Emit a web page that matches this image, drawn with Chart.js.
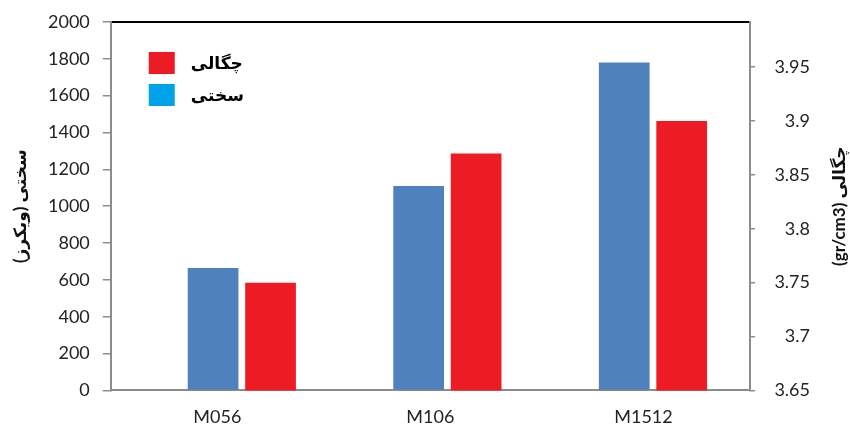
<!DOCTYPE html>
<html>
<head>
<meta charset="utf-8">
<script src="https://cdn.jsdelivr.net/npm/chart.js@4.4.1/dist/chart.umd.min.js"></script>
<style>
  html, body { margin: 0; padding: 0; background: #ffffff; }
  #wrap { width: 850px; height: 429px; }
</style>
</head>
<body>
<div id="wrap"><canvas id="chart" width="850" height="429"></canvas></div>
<script>
// Samples and measured properties
const samples = ['M056', 'M106', 'M1512'];
const hardness = [665, 1110, 1780];      // Vickers hardness
const density = [3.75, 3.87, 3.90];      // gr/cm3

// Axis ticks
const hardnessTicks = [0, 200, 400, 600, 800, 1000, 1200, 1400, 1600, 1800, 2000];
const densityTicks = [3.65, 3.7, 3.75, 3.8, 3.85, 3.9, 3.95];

// Texts
const hardnessName = 'سختی';
const densityName = 'چگالی';
const hardnessTitle = 'سختی (ویکرز)';
const densityTitle = 'چگالی (gr/cm3)';

// Colours
const hardnessColor = '#4F81BD';
const densityColor = '#ED1C24';
const legendColors = { [densityName]: '#ED1C24', [hardnessName]: '#00A2E8' };

const textColor = '#232323';
const axisGray = '#8c8c8c';
const numFont = { family: "Lato, 'DejaVu Sans', sans-serif", size: 18 };
const titleFont = "bold 17px Lato, 'DejaVu Sans', sans-serif";
const legendFont = "bold 17px Lato, 'DejaVu Sans', sans-serif";

// Legend and rotated axis titles drawn on top of the plot
const annotations = {
  id: 'annotations',
  afterDraw(chart) {
    const { ctx, chartArea } = chart;
    ctx.save();
    // legend inside the plot, top-left
    const entries = [densityName, hardnessName];
    entries.forEach((name, i) => {
      const bx = chartArea.left + 38;
      const by = chartArea.top + 30 + i * 32;
      ctx.fillStyle = legendColors[name];
      ctx.fillRect(bx, by, 26, 22);
      ctx.fillStyle = '#000';
      ctx.font = legendFont;
      ctx.textAlign = 'left';
      ctx.textBaseline = 'middle';
      ctx.direction = 'rtl';
      ctx.fillText(name, bx + 42, by + 12);
    });
    // axis titles, both reading bottom to top
    const midY = (chartArea.top + chartArea.bottom) / 2;
    const drawTitle = (text, x) => {
      ctx.save();
      ctx.translate(x, midY);
      ctx.rotate(-Math.PI / 2);
      ctx.font = titleFont;
      ctx.fillStyle = '#111';
      ctx.textAlign = 'center';
      ctx.textBaseline = 'middle';
      ctx.direction = 'rtl';
      ctx.fillText(text, 0, 0);
      ctx.restore();
    };
    drawTitle(hardnessTitle, chartArea.left - 90);
    drawTitle(densityTitle, chartArea.right + 90);
    ctx.restore();
  }
};

// keep the value axes from reserving room above/below the plot for their labels
const noLabelOverhang = (s) => { s.paddingTop = 0; s.paddingBottom = 0; };

new Chart(document.getElementById('chart'), {
  type: 'bar',
  data: {
    datasets: [
      {
        label: hardnessName,
        data: hardness.map((v, i) => ({ x: i, y: v })),
        backgroundColor: hardnessColor,
        xAxisID: 'xb',
        yAxisID: 'y',
        categoryPercentage: 0.559,
        barPercentage: 0.883
      },
      {
        label: densityName,
        data: density.map((v, i) => ({ x: i, y: v })),
        backgroundColor: densityColor,
        xAxisID: 'xb',
        yAxisID: 'y2',
        categoryPercentage: 0.559,
        barPercentage: 0.883
      }
    ]
  },
  options: {
    responsive: false,
    animation: false,
    devicePixelRatio: 1,
    layout: { padding: { left: 35, right: 40, top: 22, bottom: 1 } },
    plugins: { legend: { display: false }, tooltip: { enabled: false } },
    scales: {
      x: {
        type: 'category',
        labels: samples,
        position: 'bottom',
        offset: true,
        grid: { display: false, drawTicks: false },
        border: { display: true, color: axisGray, width: 2 },
        ticks: { padding: 16, color: textColor, font: numFont, maxRotation: 0 },
        afterFit: (s) => { s.height -= s.options.ticks.padding; }
      },
      xb: {
        type: 'linear',
        position: 'bottom',
        offset: false,
        min: -0.6375,
        max: 2.472,
        afterBuildTicks: (s) => { s.ticks = samples.map((_, i) => ({ value: i })); },
        grid: { display: false, drawTicks: false },
        border: { display: false },
        ticks: { display: false }
      },
      xTop: {
        type: 'category',
        labels: samples,
        position: 'top',
        grid: { display: false, drawTicks: false },
        ticks: { display: false },
        border: { display: true, color: '#000000', width: 2 }
      },
      y: {
        position: 'left',
        min: 0,
        max: 2000,
        afterBuildTicks: (s) => { s.ticks = hardnessTicks.map(v => ({ value: v })); },
        afterFit: noLabelOverhang,
        grid: { drawOnChartArea: false, tickLength: 8, color: axisGray, lineWidth: 1.5 },
        border: { display: true, color: axisGray, width: 2 },
        ticks: { padding: 13, color: textColor, font: numFont, callback: (v) => String(v) }
      },
      y2: {
        position: 'right',
        min: 3.65,
        max: 3.992,
        afterBuildTicks: (s) => { s.ticks = densityTicks.map(v => ({ value: v })); },
        afterFit: (s) => { noLabelOverhang(s); s.width = 60; },
        grid: { drawOnChartArea: false, tickLength: 5, color: axisGray, lineWidth: 1.5 },
        border: { display: true, color: axisGray, width: 2 },
        ticks: { padding: 19, crossAlign: 'far', color: textColor, font: numFont,
                 callback: (v) => String(+Number(v).toFixed(2)) }
      }
    }
  },
  plugins: [annotations]
});
</script>
</body>
</html>
